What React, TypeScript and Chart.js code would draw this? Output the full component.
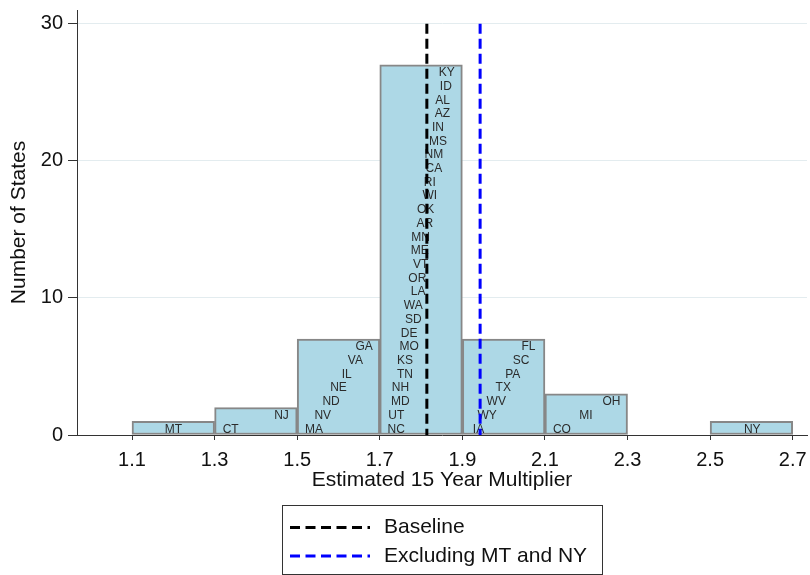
import React, { useEffect, useRef } from "react";
import { Chart, registerables } from "chart.js";

Chart.register(...registerables);

// ---- data ----
const binCenters = [1.2, 1.4, 1.6, 1.8, 2.0, 2.2, 2.6];
const binCounts = [1, 2, 7, 27, 7, 3, 1];
const binWidth = 0.2;
const xTickValues = [1.1, 1.3, 1.5, 1.7, 1.9, 2.1, 2.3, 2.5, 2.7];
const yTickValues = [0, 10, 20, 30];
const baselineMultiplier = 1.814;
const excludingMultiplier = 1.943;
const legendLabels = ["Baseline", "Excluding MT and NY"];

// state labels, listed bottom-to-top inside each bin
const stateCodes = [
  "MT",
  "CT", "NJ",
  "MA", "NV", "ND", "NE", "IL", "VA", "GA",
  "NC", "UT", "MD", "NH", "TN", "KS", "MO", "DE", "SD", "WA", "LA", "OR", "VT", "ME",
  "MN", "AR", "OK", "WI", "RI", "CA", "NM", "MS", "IN", "AZ", "AL", "ID", "KY",
  "IA", "WY", "WV", "TX", "PA", "SC", "FL",
  "CO", "MI", "OH",
  "NY",
];
const stateValues = [
  1.2,
  1.339, 1.462,
  1.541, 1.562, 1.582, 1.6, 1.62, 1.641, 1.662,
  1.74, 1.74, 1.75, 1.75, 1.761, 1.761, 1.771, 1.771, 1.781, 1.781, 1.793, 1.791, 1.799, 1.797,
  1.799, 1.809, 1.811, 1.821, 1.821, 1.831, 1.831, 1.841, 1.841, 1.852, 1.852, 1.86, 1.862,
  1.939, 1.96, 1.982, 1.999, 2.022, 2.042, 2.06,
  2.141, 2.199, 2.261,
  2.602,
];

const FONT = "'Liberation Sans', Arial, Helvetica, sans-serif";
const X_MIN = 0.9668;
const X_MAX = 2.7346;
const Y_MAX = 31;

function binIndexOf(v: number): number {
  for (let i = 0; i < binCenters.length; i++) {
    if (v >= binCenters[i] - binWidth / 2 - 1e-9 && v < binCenters[i] + binWidth / 2) return i;
  }
  return -1;
}

const stateLabelPlugin = {
  id: "stateLabels",
  afterDatasetDraw(chart: any, args: any) {
    if (args.index !== 0) return;
    const { ctx } = chart;
    const xs = chart.scales.x;
    const ys = chart.scales.y;
    const rowCount: Record<number, number> = {};
    ctx.save();
    ctx.font = `12px ${FONT}`;
    ctx.fillStyle = "#2b2b2b";
    ctx.textAlign = "center";
    ctx.textBaseline = "middle";
    stateCodes.forEach((code, i) => {
      const v = stateValues[i];
      const b = binIndexOf(v);
      const row = rowCount[b] || 0;
      rowCount[b] = row + 1;
      ctx.fillText(code, xs.getPixelForValue(v), ys.getPixelForValue(row + 0.42));
    });
    ctx.restore();
  },
};

const boxLegendPlugin = {
  id: "boxLegend",
  afterDraw(chart: any) {
    const { ctx } = chart;
    const colors = ["#000000", "#0000ff"];
    ctx.save();
    ctx.strokeStyle = "#333333";
    ctx.lineWidth = 1;
    ctx.strokeRect(282.5, 505.5, 320, 69);
    legendLabels.forEach((label, i) => {
      const y = 527.5 + i * 28.5;
      ctx.beginPath();
      ctx.setLineDash([10, 5.5]);
      ctx.strokeStyle = colors[i];
      ctx.lineWidth = 3;
      ctx.moveTo(290, y);
      ctx.lineTo(370, y);
      ctx.stroke();
      ctx.setLineDash([]);
      ctx.fillStyle = "#111111";
      ctx.font = `21px ${FONT}`;
      ctx.textAlign = "left";
      ctx.textBaseline = "middle";
      ctx.fillText(label, 384, y);
    });
    ctx.restore();
  },
};

export default function App() {
  const canvasRef = useRef<HTMLCanvasElement | null>(null);

  useEffect(() => {
    if (!canvasRef.current) return;
    Chart.defaults.font.family = FONT;
    const chart = new Chart(canvasRef.current, {
      type: "bar",
      data: {
        datasets: [
          {
            type: "bar",
            data: binCenters.map((c, i) => ({ x: c, y: binCounts[i] })),
            backgroundColor: "#add8e6",
            borderColor: "#878787",
            borderWidth: 2,
            borderSkipped: false,
            barPercentage: 1,
            categoryPercentage: 1,
            order: 3,
          } as any,
          {
            type: "line",
            data: [
              { x: baselineMultiplier, y: 30 },
              { x: baselineMultiplier, y: 0 },
            ],
            borderColor: "#000000",
            borderWidth: 3,
            borderDash: [10, 5],
            pointRadius: 0,
            fill: false,
            order: 1,
          } as any,
          {
            type: "line",
            data: [
              { x: excludingMultiplier, y: 30 },
              { x: excludingMultiplier, y: 0 },
            ],
            borderColor: "#0000ff",
            borderWidth: 3,
            borderDash: [10, 5],
            pointRadius: 0,
            fill: false,
            order: 0,
          } as any,
        ],
      },
      options: {
        responsive: false,
        animation: false,
        layout: { padding: { left: 0, right: 3, top: 10, bottom: 80 } },
        plugins: {
          legend: { display: false },
          tooltip: { enabled: false },
        },
        scales: {
          x: {
            type: "linear",
            min: X_MIN,
            max: X_MAX,
            offset: false,
            afterBuildTicks: (s: any) => {
              s.ticks = xTickValues.map((v) => ({ value: v }));
            },
            afterFit: (s: any) => {
              s.height = 60;
              s.paddingLeft = 0;
              s.paddingRight = 0;
            },
            ticks: {
              autoSkip: false,
              maxRotation: 0,
              padding: 8,
              color: "#111111",
              font: { size: 20, family: FONT },
              callback: (v: any) => Number(v).toFixed(1),
            },
            grid: {
              offset: false,
              drawOnChartArea: false,
              drawTicks: true,
              tickLength: 5,
              tickColor: "#333333",
            },
            border: { display: true, color: "#333333", width: 1 },
            title: {
              display: true,
              text: "Estimated 15 Year Multiplier",
              color: "#111111",
              font: { size: 21, family: FONT },
              padding: { top: 0, bottom: 2 },
            },
          },
          y: {
            type: "linear",
            min: 0,
            max: Y_MAX,
            afterBuildTicks: (s: any) => {
              s.ticks = yTickValues.map((v) => ({ value: v }));
            },
            afterFit: (s: any) => {
              s.width = 77;
              s.paddingTop = 0;
              s.paddingBottom = 0;
            },
            ticks: {
              padding: 5,
              color: "#111111",
              font: { size: 20, family: FONT },
            },
            grid: {
              color: (c: any) => (c.tick && c.tick.value === 0 ? "rgba(0,0,0,0)" : "#e3ecef"),
              lineWidth: 1,
              drawTicks: true,
              tickLength: 9,
              tickColor: "#333333",
            },
            border: { display: true, color: "#333333", width: 1 },
            title: {
              display: true,
              text: "Number of States",
              color: "#111111",
              font: { size: 21, family: FONT },
              padding: { top: 7, bottom: 0 },
            },
          },
        },
      } as any,
      plugins: [stateLabelPlugin, boxLegendPlugin],
    });
    return () => chart.destroy();
  }, []);

  return (
    <div style={{ position: "absolute", left: 0, top: 0, width: 810, height: 575, background: "#ffffff" }}>
      <canvas ref={canvasRef} width={810} height={575} style={{ display: "block" }} />
    </div>
  );
}
